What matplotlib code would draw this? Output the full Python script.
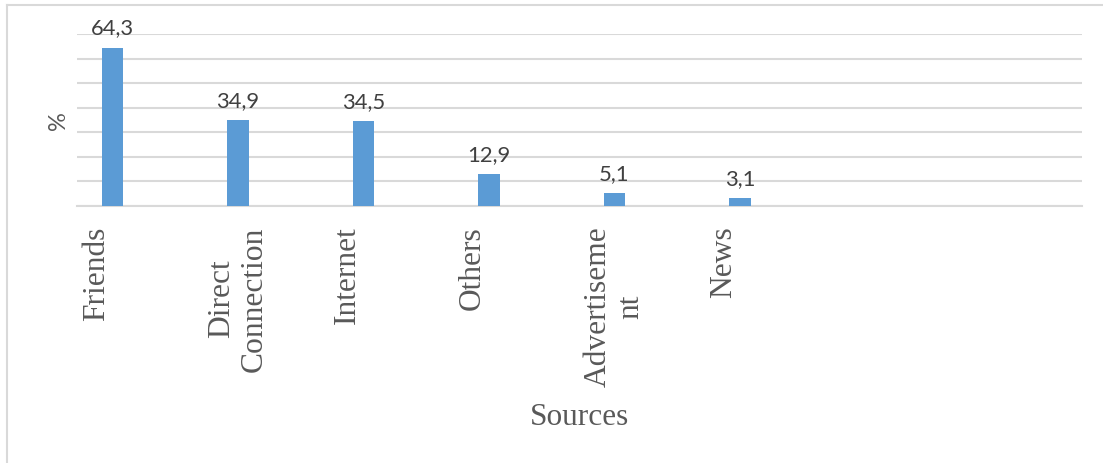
import matplotlib
matplotlib.use("Agg")
import matplotlib.pyplot as plt
from matplotlib.lines import Line2D

categories = ["Friends", "Direct\nConnection", "Internet", "Others", "Advertiseme\nnt", "News"]
values = [64.3, 34.9, 34.5, 12.9, 5.1, 3.1]
value_labels = ["64,3", "34,9", "34,5", "12,9", "5,1", "3,1"]
y_ticks = [0, 10, 20, 30, 40, 50, 60, 70]

W, H = 1103, 464
fig = plt.figure(figsize=(W / 100, H / 100), dpi=100)
fig.patch.set_facecolor("white")

# outer frame (left and top edges visible)
fig.add_artist(Line2D([7 / W, 7 / W], [0, 1 - 6 / H], transform=fig.transFigure,
                      color="#D9D9D9", lw=1.5))
fig.add_artist(Line2D([7 / W, 1], [1 - 6 / H, 1 - 6 / H], transform=fig.transFigure,
                      color="#D9D9D9", lw=1.5))

left, right = 77 / W, 1082 / W
bottom, top = 1 - 207 / H, 1 - 35 / H
ax = fig.add_axes([left, bottom, right - left, top - bottom])

x = list(range(len(categories)))
ax.bar(x, values, width=0.172, color="#5B9BD5", zorder=3)
ax.set_xlim(-0.283, 7.725)
ax.set_ylim(0, 70)
ax.set_yticks(y_ticks)
ax.yaxis.grid(True, color="#D9D9D9", lw=1.5, zorder=0)
ax.tick_params(axis="y", length=0, labelleft=False)
ax.tick_params(axis="x", length=0)
for s in ["left", "right", "top"]:
    ax.spines[s].set_visible(False)
ax.spines["bottom"].set_color("#D9D9D9")
ax.spines["bottom"].set_linewidth(1.5)
ax.set_facecolor("white")

for xi, v, lab in zip(x, values, value_labels):
    ax.annotate(lab, (xi, v), xytext=(0, 7.5), textcoords="offset points",
                ha="center", va="bottom", fontsize=15.8, family="Lato", color="#404040")

ax.set_xticks(x)
tick_texts = [c if "\n" in c else c + "\n " for c in categories]
ax.set_xticklabels(tick_texts, rotation=90, ha="center", va="top",
                   family="Liberation Serif", fontsize=22.7, color="#595959",
                   linespacing=1.17)
ax.tick_params(axis="x", pad=14)

fig.text(579.5 / W, 1 - 418 / H, "Sources", ha="center", va="center",
         family="Liberation Serif", fontsize=22.5, color="#595959")
fig.text(58 / W, 1 - 121 / H, "%", ha="center", va="center", rotation=90,
         family="Lato", fontsize=17, color="#595959")

fig.savefig("out.png", dpi=100, facecolor="white")
